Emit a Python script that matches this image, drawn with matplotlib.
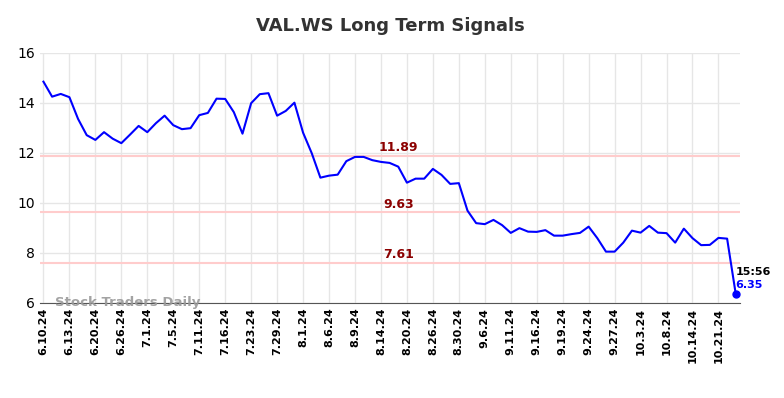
import matplotlib.pyplot as plt

# closing prices, one per trading day
prices = [14.85, 14.25, 14.36, 14.23, 13.36, 12.71, 12.52, 12.83, 12.57, 12.39,
          12.73, 13.08, 12.83, 13.19, 13.49, 13.11, 12.95, 12.99, 13.51, 13.60,
          14.17, 14.16, 13.63, 12.77, 13.99, 14.35, 14.39, 13.49, 13.68, 14.01,
          12.81, 11.99, 11.01, 11.09, 11.13, 11.67, 11.84, 11.84, 11.71, 11.64,
          11.60, 11.45, 10.81, 10.97, 10.97, 11.36, 11.12, 10.76, 10.79, 9.69,
          9.19, 9.15, 9.32, 9.11, 8.80, 8.99, 8.85, 8.84, 8.91, 8.69,
          8.69, 8.75, 8.80, 9.05, 8.59, 8.05, 8.05, 8.41, 8.89, 8.81,
          9.08, 8.81, 8.79, 8.41, 8.97, 8.59, 8.31, 8.32, 8.60, 8.57,
          6.35]

tick_labels = ["6.10.24", "6.13.24", "6.20.24", "6.26.24", "7.1.24", "7.5.24",
               "7.11.24", "7.16.24", "7.23.24", "7.29.24", "8.1.24", "8.6.24",
               "8.9.24", "8.14.24", "8.20.24", "8.26.24", "8.30.24", "9.6.24",
               "9.11.24", "9.16.24", "9.19.24", "9.24.24", "9.27.24", "10.3.24",
               "10.8.24", "10.14.24", "10.21.24"]

levels = [11.89, 9.63, 7.61]
last_time = "15:56"

fig = plt.figure(figsize=(7.84, 3.98), dpi=100)
ax = fig.add_axes([0.051, 0.239, 0.893, 0.628])

x = list(range(len(prices)))
ax.plot(x, prices, color="#0000ff", lw=1.5, zorder=3)
ax.plot(x[-1], prices[-1], "o", color="#0000ff", ms=5, zorder=4)

for lv in levels:
    ax.axhline(lv, color="#ffcccc", lw=1.5, zorder=2)
    ax.text(41, lv + 0.06, f"{lv:.2f}", color="#8b0000", fontsize=9,
            fontweight="bold", ha="center", va="bottom")

ax.text(x[-1] - 0.05, prices[-1] + 0.9, last_time, color="black", fontsize=8,
        fontweight="bold", ha="left", va="center", clip_on=False)
ax.text(x[-1] - 0.05, prices[-1] + 0.38, f"{prices[-1]:.2f}", color="#0000ff",
        fontsize=8, fontweight="bold", ha="left", va="center", clip_on=False)

ax.text(1.3, 6.0, "Stock Traders Daily", color="#999999", fontsize=9.5,
        fontweight="bold", ha="left", va="center", alpha=0.9, zorder=5)

ax.set_xticks(range(0, len(prices), 3))
ax.set_xticklabels(tick_labels, rotation=90, fontsize=8, fontweight="bold")
ax.set_xlim(-0.4, 80.5)
ax.set_ylim(6, 16)
ax.set_yticks([6, 8, 10, 12, 14, 16])
ax.tick_params(axis="y", labelsize=10, length=0)
ax.tick_params(axis="x", length=0)
ax.grid(True, color="#e6e6e6", lw=1)
ax.set_axisbelow(True)
for s in ["top", "right", "left"]:
    ax.spines[s].set_visible(False)
ax.spines["bottom"].set_color("#555555")

ax.set_title("VAL.WS Long Term Signals", fontsize=13, fontweight="bold",
             color="#333333", pad=16)

fig.savefig("out.png", dpi=100)
